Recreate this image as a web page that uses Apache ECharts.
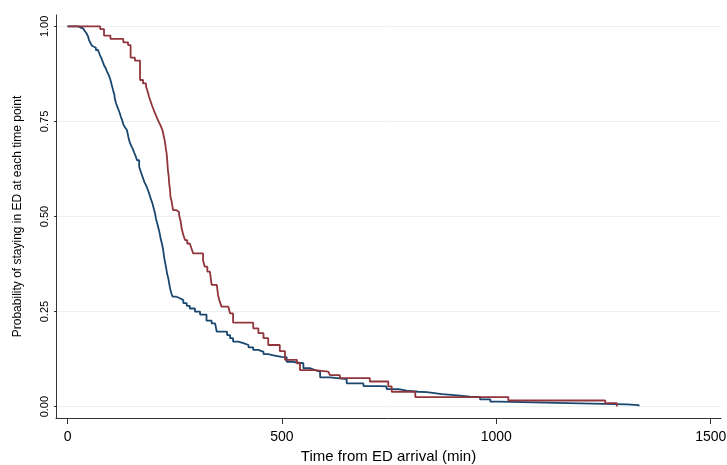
<!DOCTYPE html>
<html>
<head>
<meta charset="utf-8">
<script src="https://cdn.jsdelivr.net/npm/echarts@6/dist/echarts.min.js"></script>
<style>
  html, body { margin: 0; padding: 0; background: #fff; }
  #chart { width: 727px; height: 465px; }
</style>
</head>
<body>
<div id="chart"></div>
<script>
// survival curves, time in minutes -> probability still in ED
var blueTime = [0, 25, 30, 36, 40, 44, 48, 50, 54, 57,
    60, 66, 71, 75, 79, 82, 85, 89, 92, 96,
    99, 101, 103, 106, 109, 110, 113, 116, 119, 122,
    124, 127, 130, 134, 138, 140, 142, 145, 148, 152,
    155, 159, 162, 167, 171, 175, 179, 183, 187, 190,
    194, 198, 201, 204, 206, 209, 212, 215, 217, 220,
    223, 225, 228, 230, 232, 235, 237, 239, 242, 245,
    254, 262, 270, 278, 285, 297, 309, 324, 336, 344,
    348, 372, 379, 386, 398, 410, 422, 433, 445, 457,
    468, 480, 499, 511, 523, 534, 550, 565, 577, 589,
    612, 651, 690, 729, 744, 772, 791, 818, 838, 873,
    896, 939, 962, 986, 1005, 1168, 1305, 1332];
var blueSurv = [1.0, 0.997, 0.995, 0.992, 0.988, 0.982, 0.973, 0.964, 0.955, 0.949,
    0.944, 0.938, 0.934, 0.926, 0.916, 0.907, 0.898, 0.890, 0.881, 0.872,
    0.863, 0.855, 0.846, 0.833, 0.821, 0.811, 0.798, 0.789, 0.780, 0.771,
    0.763, 0.754, 0.743, 0.734, 0.728, 0.719, 0.708, 0.695, 0.687, 0.678,
    0.669, 0.658, 0.648, 0.630, 0.617, 0.604, 0.591, 0.582, 0.571, 0.561,
    0.547, 0.534, 0.521, 0.508, 0.495, 0.482, 0.469, 0.455, 0.442, 0.429,
    0.412, 0.394, 0.376, 0.364, 0.350, 0.337, 0.324, 0.311, 0.298, 0.289,
    0.285, 0.280, 0.272, 0.265, 0.258, 0.250, 0.242, 0.226, 0.219, 0.215,
    0.197, 0.188, 0.180, 0.171, 0.167, 0.162, 0.156, 0.149, 0.144, 0.138,
    0.135, 0.131, 0.130, 0.118, 0.116, 0.114, 0.101, 0.096, 0.092, 0.077,
    0.072, 0.061, 0.054, 0.053, 0.046, 0.042, 0.039, 0.038, 0.033, 0.031,
    0.026, 0.025, 0.019, 0.013, 0.009, 0.006, 0.004, 0.001];

var redTime = [0, 76, 85, 100, 130, 141, 147, 157, 169, 176,
    183, 187, 190, 194, 197, 201, 205, 209, 213, 217,
    221, 224, 227, 229, 231, 232, 234, 236, 237, 239,
    240, 243, 246, 253, 260, 264, 266, 270, 274, 279,
    285, 289, 293, 316, 320, 326, 332, 336, 348, 351,
    355, 359, 375, 379, 386, 433, 445, 457, 468, 495,
    507, 535, 542, 577, 608, 612, 635, 705, 748, 756,
    811, 1028, 1254, 1281];
var redSurv = [1.0, 0.993, 0.976, 0.967, 0.958, 0.951, 0.918, 0.910, 0.859, 0.850,
    0.842, 0.828, 0.815, 0.802, 0.792, 0.780, 0.769, 0.758, 0.748, 0.739,
    0.728, 0.713, 0.697, 0.680, 0.666, 0.653, 0.622, 0.604, 0.587, 0.569,
    0.552, 0.538, 0.517, 0.512, 0.504, 0.486, 0.469, 0.451, 0.438, 0.429,
    0.425, 0.416, 0.403, 0.385, 0.368, 0.355, 0.350, 0.320, 0.315, 0.293,
    0.276, 0.263, 0.258, 0.245, 0.221, 0.206, 0.193, 0.180, 0.162, 0.146,
    0.123, 0.114, 0.096, 0.092, 0.089, 0.083, 0.075, 0.066, 0.053, 0.039,
    0.025, 0.016, 0.009, 0.0];

var xTicks = [0, 500, 1000, 1500];
var yTicks = [0, 0.25, 0.5, 0.75, 1];

function pairs(xs, ys) {
    var out = [];
    for (var i = 0; i < xs.length; i++) out.push([xs[i], ys[i]]);
    return out;
}

var font = 'Liberation Sans, Arial, sans-serif';
var option = {
    animation: false,
    backgroundColor: '#fff',
    grid: { left: 56, right: 6, top: 15, bottom: 47, containLabel: false, outerBoundsMode: 'none' },
    xAxis: {
        type: 'value',
        min: -27,
        max: 1524,
        name: 'Time from ED arrival (min)',
        nameLocation: 'middle',
        nameGap: 28,
        nameTextStyle: { fontFamily: font, fontSize: 15, color: '#000' },
        axisLine: { show: true, onZero: false, lineStyle: { color: '#333', width: 1 } },
        axisTick: { show: true, length: 6, customValues: xTicks, lineStyle: { color: '#333' } },
        axisLabel: {
            customValues: xTicks,
            fontFamily: font,
            fontSize: 14,
            color: '#000',
            margin: 12,
            formatter: function (v) { return String(v); }
        },
        splitLine: { show: false }
    },
    yAxis: {
        type: 'value',
        min: -0.03,
        max: 1.03,
        name: 'Probability of staying in ED at each time point',
        nameLocation: 'middle',
        nameGap: 32,
        nameTextStyle: { fontFamily: font, fontSize: 12, color: '#000' },
        axisLine: { show: true, onZero: false, lineStyle: { color: '#333', width: 1 } },
        axisTick: { show: true, length: 2, customValues: yTicks, lineStyle: { color: '#333' } },
        axisLabel: {
            customValues: yTicks,
            rotate: 90,
            margin: 6,
            fontFamily: font,
            fontSize: 11,
            color: '#000',
            formatter: function (v) { return v.toFixed(2); }
        },
        splitLine: { show: true, lineStyle: { color: '#eaf2f3', width: 1 } }
    },
    series: [
        {
            type: 'line',
            step: 'end',
            showSymbol: false,
            data: pairs(blueTime, blueSurv),
            lineStyle: { color: '#1a476f', width: 1.8 }
        },
        {
            type: 'line',
            step: 'end',
            showSymbol: false,
            data: pairs(redTime, redSurv),
            lineStyle: { color: '#90353b', width: 1.8 }
        }
    ]
};

var chart = echarts.init(document.getElementById('chart'));
chart.setOption(option);
</script>
</body>
</html>
